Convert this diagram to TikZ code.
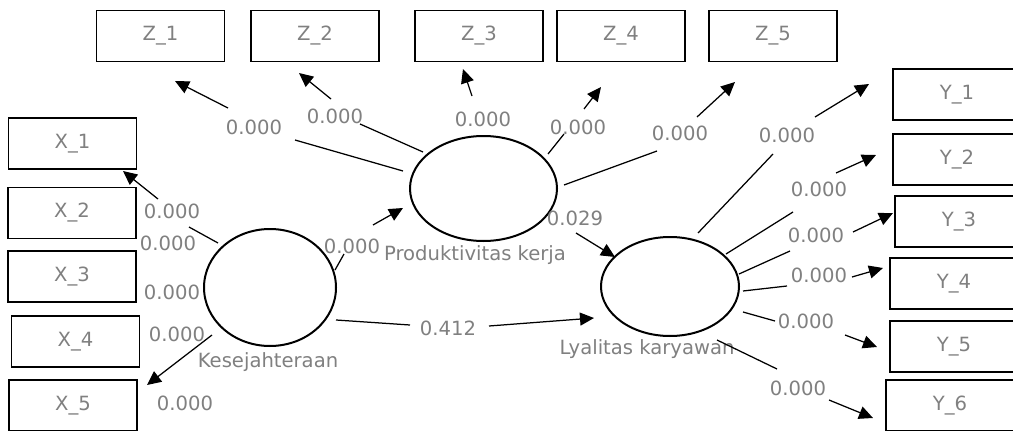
\documentclass[tikz,border=0pt]{standalone}
\usepackage{fontspec}
\setmainfont{DejaVu Sans}
\usetikzlibrary{arrows.meta,shapes.geometric}
\definecolor{lbl}{HTML}{808080}
\begin{document}
\begin{tikzpicture}[x=1pt,y=-1pt,
  txt/.style={font=\fontsize{19.6}{23}\selectfont},
  ind/.style={txt,draw,line width=1.9pt,minimum width=128pt,minimum height=51pt,inner sep=0pt,text=lbl},
  lat/.style={draw,ellipse,line width=2pt,inner sep=0pt},
  val/.style={txt,text=lbl,inner sep=0pt},
  seg/.style={line width=1.25pt},
  arr/.style={line width=1.25pt,-{Triangle[length=14pt,width=13pt]}}]
\clip (0,0) rectangle (1013,431);
\fill[white] (0,0) rectangle (1013,431);

% indicator boxes
\node[ind] (z1) at (160.5,36) {Z\_1};
\node[ind] (z2) at (315,36) {Z\_2};
\node[ind] (z3) at (479,36) {Z\_3};
\node[ind] (z4) at (621,36) {Z\_4};
\node[ind] (z5) at (773,36) {Z\_5};
\node[ind] (x1) at (72.5,143.5) {X\_1};
\node[ind] (x2) at (72,213) {X\_2};
\node[ind] (x3) at (72,276.5) {X\_3};
\node[ind] (x4) at (75.5,341.5) {X\_4};
\node[ind] (x5) at (73,405.5) {X\_5};
\node[ind] (y1) at (957,94.5) {Y\_1};
\node[ind] (y2) at (957,159.5) {Y\_2};
\node[ind] (y3) at (959,221.5) {Y\_3};
\node[ind] (y4) at (954,283.5) {Y\_4};
\node[ind] (y5) at (954,346.5) {Y\_5};
\node[ind] (y6) at (950,405.5) {Y\_6};

% latent variables
\node[lat,minimum width=132pt,minimum height=117pt] (kes) at (270,287.5) {};
\node[lat,minimum width=147pt,minimum height=105pt] (prod) at (483.5,188.5) {};
\node[lat,minimum width=138pt,minimum height=99pt] (lyal) at (670,286.5) {};
\node[val] (kesname) at (268,362) {Kesejahteraan};
\node[val] (prodname) at (475,255) {Produktivitas kerja};
\node[val] (lyalname) at (647,349.5) {Lyalitas karyawan};

% path coefficients and loadings
\node[val] (lz1) at (254,127) {0.000};
\node[val] (lz2) at (335,116) {0.000};
\node[val] (lz3) at (483,119.5) {0.000};
\node[val] (lz4) at (578,127) {0.000};
\node[val] (lz5) at (680,133) {0.000};
\node[val] (ly1) at (787,135) {0.000};
\node[val] (ly2) at (819,189) {0.000};
\node[val] (ly3) at (816,235) {0.000};
\node[val] (ly4) at (819,275) {0.000};
\node[val] (ly5) at (806,321) {0.000};
\node[val] (ly6) at (798,388) {0.000};
\node[val] (lx1) at (172,211) {0.000};
\node[val] (lx2) at (168,243) {0.000};
\node[val] (lx3) at (172,292) {0.000};
\node[val] (lx4) at (177,334) {0.000};
\node[val] (lx5) at (185,403) {0.000};
\node[val] (lkp) at (352,246) {0.000};
\node[val] (lpl) at (575,218) {0.029};
\node[val] (lkl) at (448,328) {0.412};

% segment end points
\coordinate (z1a) at (403,171); \coordinate (z1b) at (295,140);
\coordinate (z1c) at (228,108); \coordinate (z1t) at (175,81);
\coordinate (z2a) at (423,152); \coordinate (z2b) at (360,124);
\coordinate (z2c) at (331,99);  \coordinate (z2t) at (299,73);
\coordinate (z3c) at (472,96);  \coordinate (z3t) at (463,69);
\coordinate (z4a) at (548,154); \coordinate (z4b) at (564,134);
\coordinate (z4c) at (584,109); \coordinate (z4t) at (601,87);
\coordinate (z5a) at (564,185); \coordinate (z5b) at (657,151);
\coordinate (z5c) at (697,117); \coordinate (z5t) at (735,82);
\coordinate (y1a) at (698,233); \coordinate (y1b) at (773,154);
\coordinate (y1c) at (815,117); \coordinate (y1t) at (869,84);
\coordinate (y2a) at (726,254); \coordinate (y2b) at (793,212);
\coordinate (y2c) at (836,173); \coordinate (y2t) at (876,155);
\coordinate (y3a) at (739,274); \coordinate (y3b) at (790,251);
\coordinate (y3c) at (853,232); \coordinate (y3t) at (893,213);
\coordinate (y4a) at (743,291); \coordinate (y4b) at (787,286);
\coordinate (y4c) at (852,277); \coordinate (y4t) at (883,268);
\coordinate (y5a) at (743,312); \coordinate (y5b) at (775,321);
\coordinate (y5c) at (845,335); \coordinate (y5t) at (877,347);
\coordinate (y6a) at (717,340); \coordinate (y6b) at (777,369);
\coordinate (y6c) at (829,400); \coordinate (y6t) at (873,418);
\coordinate (x1a) at (218,243); \coordinate (x1b) at (189,227);
\coordinate (x1c) at (158,199); \coordinate (x1t) at (123,171);
\coordinate (x5c) at (212,335); \coordinate (x5t) at (147,385);
\coordinate (kpa) at (335,270); \coordinate (kpb) at (344,254);
\coordinate (kpc) at (373,225); \coordinate (kpt) at (403,208);
\coordinate (plc) at (576,233); \coordinate (plt) at (615,257);
\coordinate (kla) at (336,320); \coordinate (klb) at (410,325);
\coordinate (klc) at (489,326); \coordinate (klt) at (594,318);

% connectors, broken around their coefficients
\draw[seg] (z1a) -- (z1b); \draw[arr] (z1c) -- (z1t);
\draw[seg] (z2a) -- (z2b); \draw[arr] (z2c) -- (z2t);
\draw[arr] (z3c) -- (z3t);
\draw[seg] (z4a) -- (z4b); \draw[arr] (z4c) -- (z4t);
\draw[seg] (z5a) -- (z5b); \draw[arr] (z5c) -- (z5t);
\draw[seg] (y1a) -- (y1b); \draw[arr] (y1c) -- (y1t);
\draw[seg] (y2a) -- (y2b); \draw[arr] (y2c) -- (y2t);
\draw[seg] (y3a) -- (y3b); \draw[arr] (y3c) -- (y3t);
\draw[seg] (y4a) -- (y4b); \draw[arr] (y4c) -- (y4t);
\draw[seg] (y5a) -- (y5b); \draw[arr] (y5c) -- (y5t);
\draw[seg] (y6a) -- (y6b); \draw[arr] (y6c) -- (y6t);
\draw[seg] (x1a) -- (x1b); \draw[arr] (x1c) -- (x1t);
\draw[arr] (x5c) -- (x5t);
\draw[seg] (kpa) -- (kpb); \draw[arr] (kpc) -- (kpt);
\draw[arr] (plc) -- (plt);
\draw[seg] (kla) -- (klb); \draw[arr] (klc) -- (klt);
\end{tikzpicture}
\end{document}
